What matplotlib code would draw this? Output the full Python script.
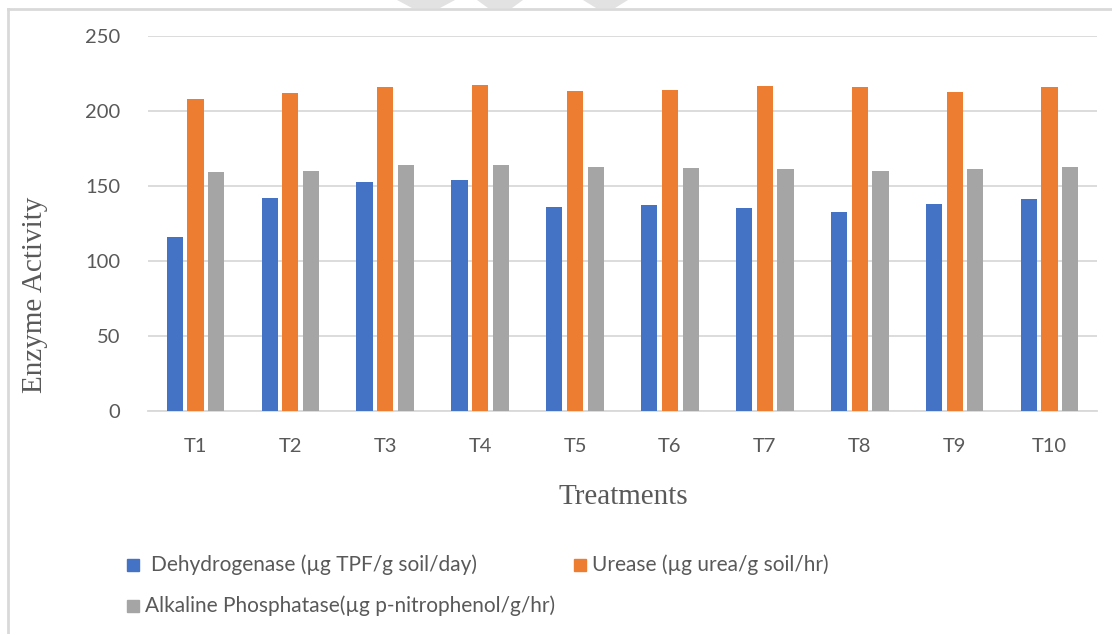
import matplotlib
matplotlib.use("Agg")
import matplotlib.pyplot as plt
from matplotlib.patches import Rectangle, Polygon
import numpy as np

categories = ["T1", "T2", "T3", "T4", "T5", "T6", "T7", "T8", "T9", "T10"]
dehydrogenase = [116, 142, 152.5, 153.5, 135.5, 137, 135, 132.5, 137.5, 141]
urease = [208, 212, 216, 217, 213, 214, 216.5, 216, 212.5, 216]
phosphatase = [159, 160, 163.5, 163.5, 162.5, 162, 161, 160, 161, 162.5]
series_names = ["Dehydrogenase (µg TPF/g soil/day)",
                "Urease (µg urea/g soil/hr)",
                "Alkaline Phosphatase(µg p-nitrophenol/g/hr)"]
colors = ["#4472C4", "#ED7D31", "#A5A5A5"]
yticks = [0, 50, 100, 150, 200, 250]

W, H = 1112, 634
fig = plt.figure(figsize=(W / 100, H / 100), dpi=100)
fig.patch.set_facecolor("white")

def fx(px):
    return px / W

def fy(py):
    return 1 - py / H

ax = fig.add_axes([fx(148), fy(410.5), fx(1097) - fx(148), fy(35.7) - fy(410.5)])
x = np.arange(len(categories))
step = 0.218
width = 0.17
for k, (vals, c) in enumerate(zip([dehydrogenase, urease, phosphatase], colors)):
    ax.bar(x + (k - 1) * step, vals, width=width, color=c, zorder=3)

ax.set_xlim(-0.5, len(categories) - 0.5)
ax.set_ylim(0, 250)
ax.set_yticks(yticks)
ax.set_xticks(x)
ax.set_xticklabels(categories)
ax.yaxis.grid(True, color="#D9D9D9", linewidth=1.3, zorder=0)
ax.set_axisbelow(True)
for s in ["top", "right", "left"]:
    ax.spines[s].set_visible(False)
ax.spines["bottom"].set_color("#D9D9D9")
ax.spines["bottom"].set_linewidth(1.3)
ax.tick_params(axis="both", length=0, labelcolor="#595959", labelsize=14.5)
ax.tick_params(axis="y", pad=20)
ax.tick_params(axis="x", pad=20)
for lab in ax.get_xticklabels() + ax.get_yticklabels():
    lab.set_fontfamily("Lato")

# axis titles
fig.text(fx(35), fy(295), "Enzyme Activity", rotation=90, ha="center", va="center",
         fontsize=21, color="#595959", family="Liberation Serif")
fig.text(fx(623), fy(497), "Treatments", ha="center", va="center",
         fontsize=21, color="#595959", family="Liberation Serif")

# legend (manual)
leg = [(127, 565, 151, 0), (574, 565, 592, 1), (127, 606, 145, 2)]
for sx, sy, tx, k in leg:
    fig.patches.append(Rectangle((fx(sx), fy(sy + 6)), fx(12), 12 / H,
                                 transform=fig.transFigure, color=colors[k]))
    fig.text(fx(tx), fy(sy), series_names[k], ha="left", va="center",
             fontsize=15, color="#595959", family="Lato")

# chart border
fig.add_artist(plt.Line2D([fx(8), 1], [fy(8.5), fy(8.5)], transform=fig.transFigure,
                          color="#D9D9D9", linewidth=2))
fig.add_artist(plt.Line2D([fx(7.5), fx(7.5)], [fy(8.5), 0], transform=fig.transFigure,
                          color="#D9D9D9", linewidth=2))

# faint watermark fragments at top
for pts in [[(397, 0), (455, 0), (440, 8), (412, 8)],
            [(477, 0), (523, 0), (512, 8), (488, 8)],
            [(583, 0), (628, 0), (615, 8), (596, 8)]]:
    fig.patches.append(Polygon([(fx(a), fy(b)) for a, b in pts], closed=True,
                               transform=fig.transFigure, facecolor="#E2E2E2",
                               edgecolor="none", zorder=0))

fig.savefig("out.png", dpi=100, facecolor="white")
